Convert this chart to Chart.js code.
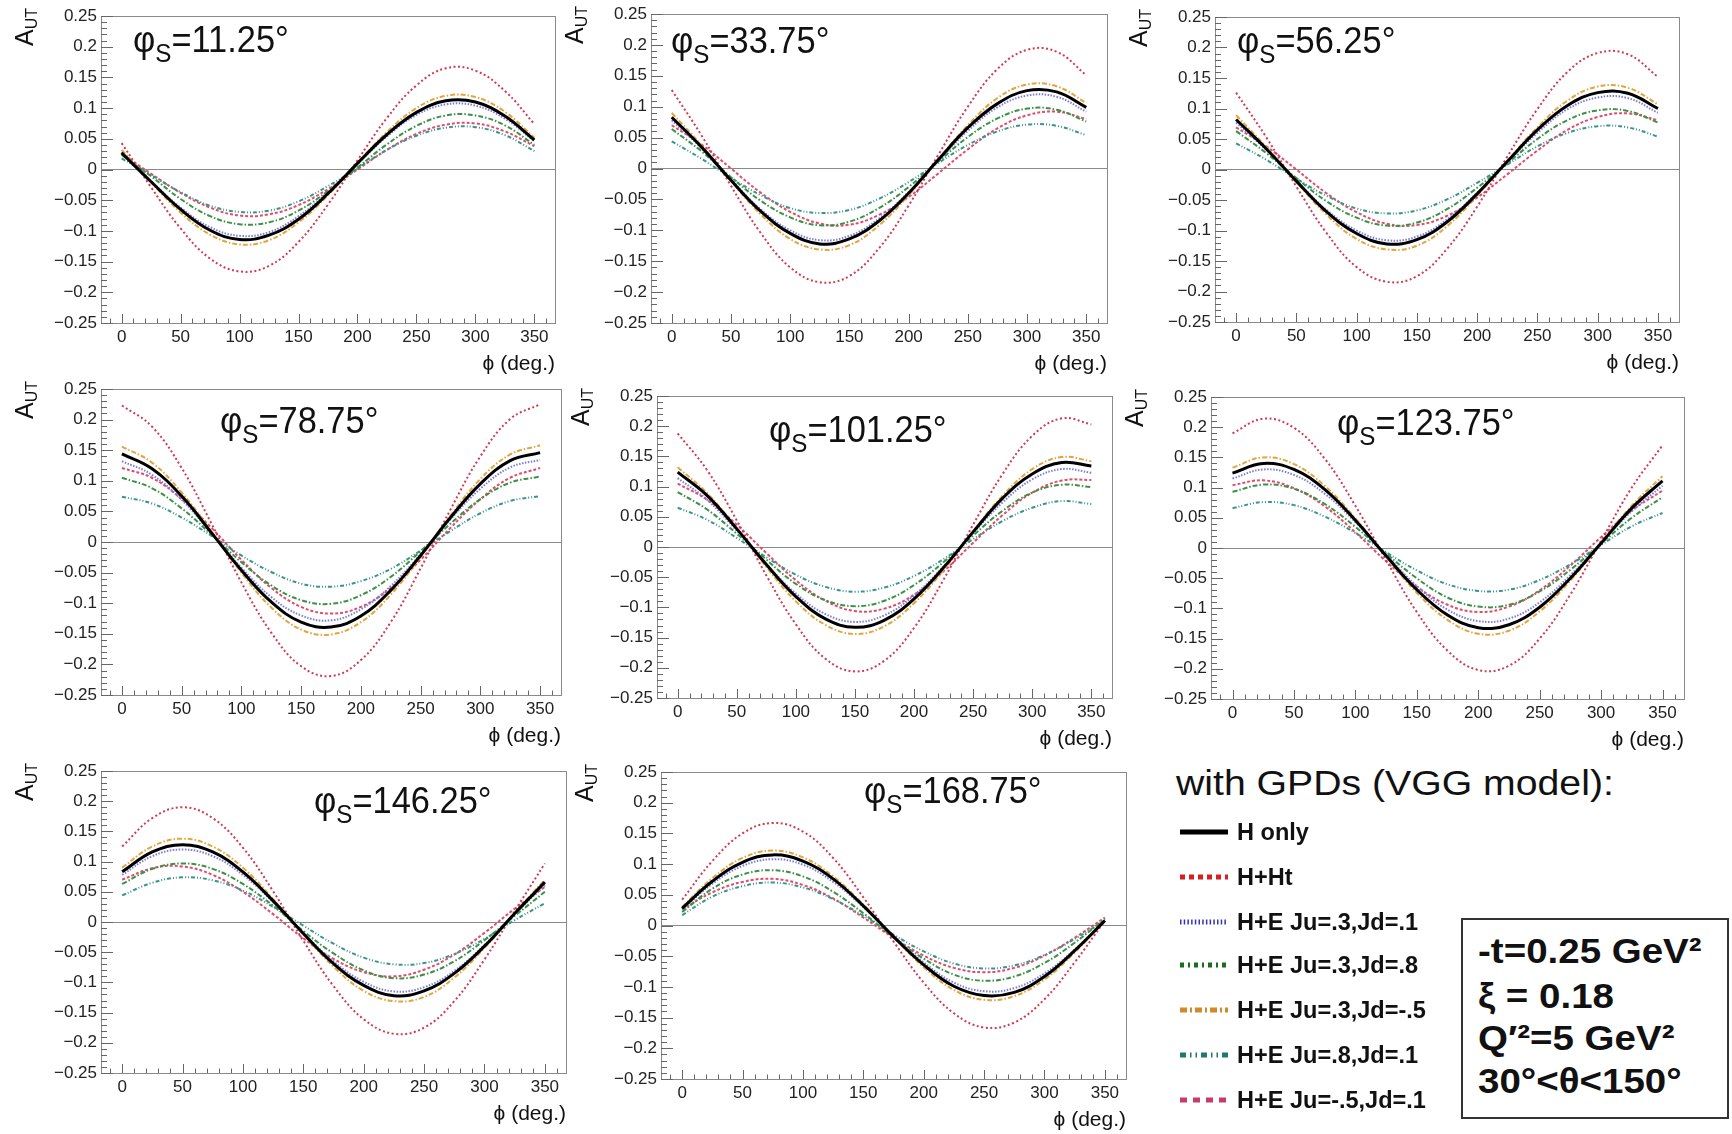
<!DOCTYPE html>
<html>
<head>
<meta charset="utf-8">
<script src="https://cdn.jsdelivr.net/npm/chart.js@4.4.1/dist/chart.umd.min.js"></script>
<style>
body { margin: 0; width: 1732px; height: 1134px; background: #fff; position: relative; overflow: hidden;
  font-family: "Liberation Sans", Arial, sans-serif; color: #111; }
.panel { position: absolute; }
.txt { position: absolute; white-space: nowrap; line-height: 1; transform-origin: left center; }
.leg { position: absolute; white-space: nowrap; line-height: 1; font-weight: bold; font-size: 24px;
  transform: scaleX(0.98); transform-origin: left center; }
.box { position: absolute; left: 1461px; top: 918px; width: 268px; height: 201px; box-sizing: border-box; border: 2px solid #333; }
.boxline { position: absolute; white-space: nowrap; line-height: 1; font-weight: bold; font-size: 35px; left: 1478px;
  transform: scaleX(1.1); transform-origin: left center; }
</style>
</head>
<body>

<div class="txt" style="left:1176px;top:765px;font-size:35px;transform:scaleX(1.12);">with GPDs (VGG model):</div>
<canvas id="legendLines" width="70" height="320" style="position:absolute;left:1170px;top:800px;"></canvas>
<div id="legendText"></div>

<div class="box"></div>
<div class="boxline" style="top:933px;">-t=0.25 GeV²</div>
<div class="boxline" style="top:978px;">ξ = 0.18</div>
<div class="boxline" style="top:1020px;">Q′²=5 GeV²</div>
<div class="boxline" style="top:1063px;">30°&lt;θ&lt;150°</div>

<script>
// phi angle (deg.) where the curves are read
var phi = [0, 25, 50, 75, 100, 125, 150, 175, 200, 225, 250, 275, 300, 325, 350];

// spin angle of each panel
var phiS = ["11.25", "33.75", "56.25", "78.75", "101.25", "123.75", "146.25", "168.75"];

// A_UT values, one row per panel (phiS order), one value per phi
var hOnly = [
  [0.027, -0.020, -0.065, -0.099, -0.114, -0.107, -0.081, -0.039, 0.010, 0.057, 0.093, 0.112, 0.110, 0.087, 0.048],
  [0.083, 0.035, -0.019, -0.069, -0.105, -0.122, -0.114, -0.085, -0.040, 0.014, 0.066, 0.105, 0.126, 0.124, 0.099],
  [0.082, 0.034, -0.019, -0.069, -0.105, -0.122, -0.115, -0.086, -0.040, 0.013, 0.065, 0.105, 0.126, 0.125, 0.100],
  [0.144, 0.120, 0.075, 0.015, -0.046, -0.098, -0.131, -0.139, -0.121, -0.079, -0.022, 0.040, 0.095, 0.133, 0.146],
  [0.124, 0.085, 0.030, -0.029, -0.082, -0.119, -0.133, -0.121, -0.086, -0.034, 0.025, 0.081, 0.121, 0.140, 0.134],
  [0.124, 0.140, 0.130, 0.097, 0.046, -0.013, -0.069, -0.111, -0.132, -0.127, -0.098, -0.050, 0.008, 0.066, 0.111],
  [0.083, 0.116, 0.128, 0.116, 0.083, 0.035, -0.019, -0.069, -0.105, -0.122, -0.114, -0.085, -0.040, 0.014, 0.066],
  [0.028, 0.072, 0.103, 0.115, 0.105, 0.076, 0.032, -0.018, -0.064, -0.099, -0.114, -0.109, -0.083, -0.041, 0.008]
];
var hHt = [
  [0.043, -0.029, -0.096, -0.145, -0.166, -0.157, -0.118, -0.057, 0.015, 0.084, 0.137, 0.165, 0.161, 0.128, 0.074],
  [0.127, 0.054, -0.028, -0.104, -0.160, -0.184, -0.174, -0.129, -0.060, 0.022, 0.100, 0.161, 0.192, 0.189, 0.151],
  [0.126, 0.053, -0.028, -0.104, -0.160, -0.184, -0.175, -0.130, -0.061, 0.021, 0.099, 0.160, 0.191, 0.189, 0.152],
  [0.223, 0.189, 0.121, 0.030, -0.066, -0.148, -0.203, -0.219, -0.193, -0.131, -0.043, 0.053, 0.140, 0.201, 0.225],
  [0.188, 0.127, 0.044, -0.047, -0.128, -0.185, -0.206, -0.188, -0.134, -0.054, 0.037, 0.121, 0.184, 0.213, 0.203],
  [0.190, 0.214, 0.199, 0.148, 0.070, -0.020, -0.106, -0.170, -0.202, -0.195, -0.150, -0.077, 0.012, 0.100, 0.170],
  [0.125, 0.172, 0.190, 0.172, 0.123, 0.051, -0.031, -0.106, -0.161, -0.185, -0.175, -0.131, -0.062, 0.018, 0.097],
  [0.042, 0.105, 0.150, 0.167, 0.153, 0.110, 0.046, -0.026, -0.093, -0.143, -0.166, -0.158, -0.120, -0.060, 0.008]
];
var ju3jd1 = [
  [0.028, -0.019, -0.062, -0.094, -0.108, -0.102, -0.076, -0.037, 0.009, 0.054, 0.089, 0.106, 0.104, 0.083, 0.046],
  [0.078, 0.033, -0.018, -0.066, -0.100, -0.116, -0.109, -0.081, -0.038, 0.012, 0.061, 0.099, 0.118, 0.116, 0.092],
  [0.077, 0.032, -0.018, -0.066, -0.100, -0.116, -0.110, -0.082, -0.038, 0.012, 0.060, 0.099, 0.118, 0.117, 0.093],
  [0.132, 0.110, 0.069, 0.014, -0.042, -0.090, -0.120, -0.128, -0.110, -0.072, -0.020, 0.037, 0.087, 0.122, 0.134],
  [0.114, 0.078, 0.027, -0.028, -0.077, -0.111, -0.124, -0.113, -0.080, -0.032, 0.023, 0.074, 0.112, 0.129, 0.123],
  [0.115, 0.130, 0.121, 0.090, 0.043, -0.011, -0.063, -0.102, -0.121, -0.117, -0.090, -0.045, 0.008, 0.061, 0.103],
  [0.078, 0.109, 0.120, 0.109, 0.078, 0.033, -0.018, -0.065, -0.099, -0.115, -0.108, -0.081, -0.038, 0.013, 0.061],
  [0.026, 0.068, 0.097, 0.108, 0.099, 0.071, 0.030, -0.017, -0.060, -0.093, -0.107, -0.102, -0.078, -0.039, 0.008]
];
var ju3jd8 = [
  [0.024, -0.011, -0.048, -0.076, -0.089, -0.086, -0.067, -0.035, 0.003, 0.041, 0.071, 0.088, 0.088, 0.072, 0.040],
  [0.064, 0.028, -0.014, -0.052, -0.079, -0.092, -0.086, -0.064, -0.030, 0.011, 0.051, 0.081, 0.097, 0.095, 0.076],
  [0.063, 0.027, -0.014, -0.052, -0.079, -0.092, -0.087, -0.065, -0.030, 0.010, 0.050, 0.081, 0.097, 0.096, 0.077],
  [0.105, 0.088, 0.055, 0.012, -0.033, -0.071, -0.095, -0.101, -0.087, -0.057, -0.015, 0.030, 0.070, 0.097, 0.107],
  [0.091, 0.062, 0.022, -0.021, -0.061, -0.088, -0.098, -0.089, -0.063, -0.025, 0.019, 0.060, 0.090, 0.103, 0.099],
  [0.093, 0.105, 0.098, 0.073, 0.035, -0.009, -0.050, -0.082, -0.097, -0.094, -0.072, -0.036, 0.007, 0.050, 0.084],
  [0.063, 0.088, 0.097, 0.088, 0.063, 0.027, -0.015, -0.052, -0.080, -0.093, -0.087, -0.065, -0.030, 0.010, 0.050],
  [0.022, 0.060, 0.083, 0.090, 0.080, 0.055, 0.020, -0.019, -0.054, -0.080, -0.090, -0.083, -0.061, -0.028, 0.011]
];
var ju3jdm5 = [
  [0.032, -0.021, -0.070, -0.106, -0.122, -0.115, -0.086, -0.042, 0.011, 0.061, 0.100, 0.120, 0.118, 0.094, 0.052],
  [0.090, 0.038, -0.020, -0.074, -0.114, -0.131, -0.124, -0.092, -0.043, 0.015, 0.070, 0.114, 0.136, 0.133, 0.106],
  [0.089, 0.037, -0.020, -0.074, -0.114, -0.131, -0.125, -0.093, -0.043, 0.014, 0.069, 0.113, 0.136, 0.134, 0.107],
  [0.156, 0.130, 0.081, 0.017, -0.050, -0.107, -0.143, -0.151, -0.131, -0.086, -0.024, 0.043, 0.103, 0.143, 0.158],
  [0.132, 0.089, 0.031, -0.033, -0.090, -0.129, -0.144, -0.131, -0.093, -0.038, 0.026, 0.085, 0.129, 0.149, 0.142],
  [0.133, 0.150, 0.139, 0.103, 0.049, -0.014, -0.074, -0.119, -0.142, -0.137, -0.105, -0.054, 0.009, 0.070, 0.119],
  [0.090, 0.125, 0.138, 0.125, 0.090, 0.038, -0.020, -0.074, -0.114, -0.131, -0.124, -0.092, -0.043, 0.015, 0.070],
  [0.030, 0.077, 0.110, 0.122, 0.111, 0.080, 0.034, -0.019, -0.068, -0.105, -0.121, -0.115, -0.088, -0.044, 0.008]
];
var ju8jd1 = [
  [0.018, -0.009, -0.037, -0.059, -0.069, -0.067, -0.052, -0.027, 0.002, 0.032, 0.055, 0.068, 0.069, 0.056, 0.030],
  [0.044, 0.016, -0.015, -0.043, -0.064, -0.072, -0.067, -0.049, -0.022, 0.009, 0.038, 0.060, 0.071, 0.069, 0.054],
  [0.043, 0.016, -0.015, -0.043, -0.064, -0.072, -0.067, -0.049, -0.022, 0.008, 0.038, 0.060, 0.071, 0.069, 0.054],
  [0.074, 0.063, 0.040, 0.010, -0.022, -0.049, -0.068, -0.073, -0.064, -0.044, -0.014, 0.018, 0.047, 0.067, 0.075],
  [0.065, 0.045, 0.015, -0.017, -0.046, -0.066, -0.074, -0.067, -0.048, -0.020, 0.013, 0.043, 0.065, 0.076, 0.071],
  [0.066, 0.076, 0.071, 0.052, 0.025, -0.007, -0.037, -0.060, -0.071, -0.069, -0.053, -0.027, 0.005, 0.036, 0.058],
  [0.044, 0.065, 0.074, 0.069, 0.052, 0.025, -0.006, -0.036, -0.059, -0.070, -0.068, -0.053, -0.028, 0.003, 0.031],
  [0.017, 0.047, 0.064, 0.070, 0.062, 0.043, 0.016, -0.015, -0.042, -0.062, -0.070, -0.065, -0.048, -0.022, 0.008]
];
var jum5jd1 = [
  [0.026, -0.007, -0.038, -0.062, -0.075, -0.073, -0.058, -0.032, 0.000, 0.032, 0.058, 0.073, 0.075, 0.062, 0.038],
  [0.070, 0.039, 0.000, -0.039, -0.070, -0.089, -0.091, -0.075, -0.046, -0.008, 0.031, 0.065, 0.086, 0.092, 0.080],
  [0.069, 0.038, 0.000, -0.039, -0.070, -0.089, -0.091, -0.076, -0.046, -0.008, 0.031, 0.065, 0.086, 0.092, 0.081],
  [0.121, 0.105, 0.070, 0.023, -0.029, -0.075, -0.106, -0.117, -0.106, -0.075, -0.029, 0.023, 0.070, 0.105, 0.121],
  [0.105, 0.078, 0.037, -0.010, -0.055, -0.089, -0.106, -0.102, -0.079, -0.040, 0.007, 0.053, 0.090, 0.110, 0.111],
  [0.104, 0.112, 0.099, 0.069, 0.026, -0.022, -0.064, -0.094, -0.106, -0.097, -0.070, -0.029, 0.018, 0.062, 0.095],
  [0.070, 0.089, 0.092, 0.078, 0.050, 0.013, -0.027, -0.061, -0.083, -0.090, -0.079, -0.054, -0.018, 0.022, 0.058],
  [0.026, 0.054, 0.071, 0.076, 0.066, 0.044, 0.013, -0.020, -0.049, -0.069, -0.076, -0.069, -0.049, -0.020, 0.013]
];

var seriesNames = ["H only", "H+Ht", "H+E Ju=.3,Jd=.1", "H+E Ju=.3,Jd=.8", "H+E Ju=.3,Jd=-.5", "H+E Ju=.8,Jd=.1", "H+E Ju=-.5,Jd=.1"];
var seriesData = [hOnly, hHt, ju3jd1, ju3jd8, ju3jdm5, ju8jd1, jum5jd1];

// line look in the panels and in the legend
var lineColors = ["#000000", "#cf3a58", "#7b7bdc", "#3d9147", "#e3a53e", "#3a9488", "#e04c6c"];
var lineWidths = [3, 2, 2, 2, 2, 2, 2];
var lineDashes = [[], [2, 2.5], [1.5, 1.5], [5, 2, 1.5, 2], [5, 2, 1.5, 2], [4, 2, 1, 2, 1, 2], [3, 2]];
var legColors = ["#000000", "#d42020", "#3434bb", "#1a6e1a", "#d08a2a", "#1f7a6a", "#c83a6a"];
var legDashes = [[], [5, 4], [1.5, 2.2], [4, 4, 2, 4], [7, 3, 2, 3], [6, 4, 1.5, 4, 1.5, 4], [7, 6]];

// frame box of each panel on the page: left, top, right, bottom
var frames = [
  [101, 16, 555, 323], [651, 14, 1107, 323], [1215, 17, 1679, 322],
  [101, 389, 561, 695], [657, 396, 1112, 698], [1211, 397, 1684, 699],
  [101, 771, 566, 1073], [661, 772, 1126, 1079]
];
// where the phiS title starts (page x, baseline y)
var titlePos = [[133, 52], [671, 53], [1237, 53], [220, 433], [769, 442], [1337, 435], [314, 813], [864, 803]];

var FONT = '"Liberation Sans", Arial, sans-serif';
var LEFT = 100;   // room left of each frame for tick labels and the A_UT title
Chart.defaults.font.family = FONT;

var panelDecor = {
  id: 'panelDecor',
  afterDatasetsDraw: function(chart, args, opts) {
    var ctx = chart.ctx, a = chart.chartArea;
    var xs = chart.scales.x, ys = chart.scales.y;
    ctx.save();
    // frame
    ctx.strokeStyle = '#8a8a8a';
    ctx.lineWidth = 1;
    ctx.strokeRect(Math.round(a.left) + 0.5, Math.round(a.top) + 0.5, Math.round(a.right - a.left), Math.round(a.bottom - a.top));
    // inner ticks like ROOT
    ctx.strokeStyle = '#666';
    ctx.beginPath();
    for (var v = -10; v <= 360; v += 10) {
      var px = Math.round(xs.getPixelForValue(v)) + 0.5;
      var len = (v % 50 === 0) ? 9 : 4.5;
      ctx.moveTo(px, a.bottom);
      ctx.lineTo(px, a.bottom - len);
    }
    for (var k = -25; k <= 25; k++) {
      var py = Math.round(ys.getPixelForValue(k / 100)) + 0.5;
      var l2 = (k % 5 === 0) ? 12 : 6;
      ctx.moveTo(a.left, py);
      ctx.lineTo(a.left + l2, py);
    }
    ctx.stroke();

    // x axis title
    ctx.fillStyle = '#111';
    ctx.font = '21px ' + FONT;
    ctx.textAlign = 'right';
    ctx.textBaseline = 'alphabetic';
    ctx.fillText('\u03D5 (deg.)', a.right, a.bottom + 47);

    // y axis title A_UT, rotated
    ctx.save();
    ctx.translate(a.left - 68, a.top - 8);
    ctx.rotate(-Math.PI / 2);
    ctx.textAlign = 'left';
    ctx.font = '16px ' + FONT;
    var wSub = ctx.measureText('UT').width;
    ctx.font = '25px ' + FONT;
    var wA = ctx.measureText('A').width;
    ctx.fillText('A', -(wA + wSub), 0);
    ctx.font = '16px ' + FONT;
    ctx.fillText('UT', -wSub, 4);
    ctx.restore();

    // panel title
    ctx.save();
    ctx.translate(opts.tx, opts.ty);
    ctx.scale(0.93, 1);
    ctx.textAlign = 'left';
    ctx.font = '37px ' + FONT;
    ctx.fillText('\u03C6', 0, 0);
    var w1 = ctx.measureText('\u03C6').width;
    ctx.font = '26px ' + FONT;
    ctx.fillText('S', w1, 10);
    var w2 = ctx.measureText('S').width;
    ctx.font = '37px ' + FONT;
    ctx.fillText('=' + opts.label + '\u00B0', w1 + w2, 0);
    ctx.restore();
    ctx.restore();
  }
};

function fmtY(v) {
  var r = Math.round(v * 100) / 100;
  if (r === 0) return '0';
  return (r < 0 ? '\u2212' : '') + String(Math.abs(r));
}

function makePanel(i) {
  var f = frames[i];
  var w = f[2] - f[0] + LEFT + 20, h = f[3] - f[1] + 80;
  var div = document.createElement('div');
  div.className = 'panel';
  div.style.left = (f[0] - LEFT) + 'px';
  div.style.top = (f[1] - 20) + 'px';
  var cv = document.createElement('canvas');
  cv.width = w; cv.height = h;
  cv.style.width = w + 'px'; cv.style.height = h + 'px';
  div.appendChild(cv);
  document.body.appendChild(div);

  var datasets = seriesData.map(function(arr, k) {
    return {
      label: seriesNames[k],
      data: phi.map(function(p, j) { return {x: p, y: arr[i][j]}; }),
      borderColor: lineColors[k],
      borderWidth: lineWidths[k],
      borderDash: lineDashes[k],
      pointRadius: 0,
      tension: 0.4,
      fill: false
    };
  });

  new Chart(cv, {
    type: 'line',
    data: {datasets: datasets},
    options: {
      responsive: false,
      animation: false,
      events: [],
      layout: {padding: {left: 0, top: 20, right: 20, bottom: 0}},
      plugins: {
        legend: {display: false},
        tooltip: {enabled: false},
        panelDecor: {
          label: phiS[i],
          tx: titlePos[i][0] - (f[0] - LEFT),
          ty: titlePos[i][1] - (f[1] - 20)
        }
      },
      scales: {
        x: {
          type: 'linear', min: -17.5, max: 367.5,
          afterFit: function(s) { s.height = 60; },
          grid: {display: false, drawTicks: false},
          border: {display: false},
          ticks: {stepSize: 50, includeBounds: false, autoSkip: false, maxRotation: 0, padding: 4,
                  color: '#222', font: {size: 17}}
        },
        y: {
          min: -0.25, max: 0.25,
          afterFit: function(s) { s.width = LEFT; },
          grid: {
            drawTicks: false,
            color: function(c) { return (c.tick && Math.abs(c.tick.value) < 1e-9) ? '#8a8a8a' : 'rgba(0,0,0,0)'; }
          },
          border: {display: false},
          ticks: {stepSize: 0.05, autoSkip: false, padding: 4, color: '#222', font: {size: 17}, callback: fmtY}
        }
      }
    },
    plugins: [panelDecor]
  });
}

for (var i = 0; i < frames.length; i++) makePanel(i);

// legend: samples on a small canvas, names as text
var legRows = [832, 877, 922, 965, 1010, 1055, 1100];
var lc = document.getElementById('legendLines').getContext('2d');
for (var r = 0; r < seriesNames.length; r++) {
  var yy = legRows[r] - 800;
  lc.strokeStyle = legColors[r];
  lc.lineWidth = 5;
  lc.setLineDash(legDashes[r]);
  lc.beginPath();
  lc.moveTo(10, yy);
  lc.lineTo(58, yy);
  lc.stroke();
  var d = document.createElement('div');
  d.className = 'leg';
  d.style.left = '1237px';
  d.style.top = (legRows[r] - 12) + 'px';
  d.textContent = seriesNames[r];
  document.getElementById('legendText').appendChild(d);
}
</script>
</body>
</html>
